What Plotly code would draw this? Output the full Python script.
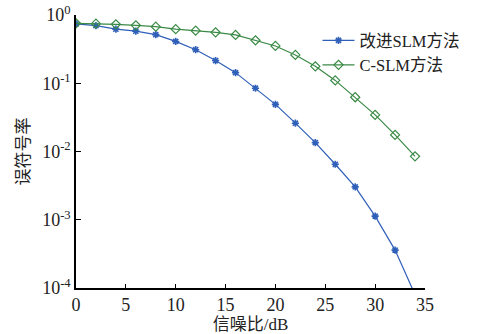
import plotly.graph_objects as go

snr = [0, 2, 4, 6, 8, 10, 12, 14, 16, 18, 20, 22, 24, 26, 28, 30, 32, 34]
ser_improved = [0.74, 0.70, 0.62, 0.58, 0.515, 0.41, 0.31, 0.215, 0.143, 0.0845,
                0.049, 0.026, 0.0135, 0.0065, 0.00303, 0.00113, 0.000359, 0.00008]
ser_cslm = [0.755, 0.746, 0.73, 0.706, 0.675, 0.62, 0.59, 0.557, 0.51, 0.426,
            0.352, 0.26, 0.177, 0.11, 0.0624, 0.0344, 0.0175, 0.0085]
ytick_vals = [1, 0.1, 0.01, 0.001, 0.0001]
ytick_text = ["10<sup>0</sup>", "10<sup>-1</sup>", "10<sup>-2</sup>", "10<sup>-3</sup>", "10<sup>-4</sup>"]
xtick_vals = [0, 5, 10, 15, 20, 25, 30, 35]
names = ["改进SLM方法", "C-SLM方法"]

FONT = "Liberation Serif, Noto Sans CJK SC, serif"
blue = "#2f5fb8"
green = "#3a8a46"
txt = "#222"

fig = go.Figure()
fig.add_trace(go.Scatter(
    x=snr, y=ser_improved, name=names[0], mode="lines+markers",
    line=dict(color=blue, width=1.2),
    marker=dict(symbol="asterisk-open", size=6, color=blue, line=dict(color=blue, width=1.6)),
))
fig.add_trace(go.Scatter(
    x=snr, y=ser_cslm, name=names[1], mode="lines+markers",
    line=dict(color=green, width=1.2),
    marker=dict(symbol="diamond-open", size=7, color=green, line=dict(color=green, width=1.2)),
))

fig.update_layout(
    width=491, height=334,
    margin=dict(l=76, r=66, t=15, b=46, autoexpand=False),
    paper_bgcolor="white", plot_bgcolor="white",
    font=dict(family=FONT, size=16, color=txt),
    showlegend=True,
    legend=dict(x=0.692, y=0.97, xanchor="left", yanchor="top",
                bgcolor="rgba(0,0,0,0)", borderwidth=0,
                font=dict(family=FONT, size=16.5, color=txt),
                tracegroupgap=0, itemwidth=32),
)
fig.update_xaxes(
    range=[0, 35], tickvals=xtick_vals, showgrid=False, zeroline=False,
    showline=True, linecolor="black", linewidth=1.5, automargin=False,
    ticks="inside", ticklen=4, tickcolor="black", tickwidth=1,
    tickfont=dict(family=FONT, size=18, color=txt),
    title=dict(text="信噪比/dB", font=dict(family=FONT, size=17, color=txt), standoff=5),
)
fig.update_yaxes(
    type="log", range=[-4, 0], tickvals=ytick_vals, ticktext=ytick_text,
    showgrid=False, zeroline=False, automargin=False,
    showline=True, linecolor="black", linewidth=1.5,
    ticks="inside", ticklen=5, tickcolor="black", tickwidth=1,
    tickfont=dict(family=FONT, size=18, color=txt),
    title=dict(text="误符号率", font=dict(family=FONT, size=17, color=txt), standoff=8),
)

fig.write_html("out.html")
